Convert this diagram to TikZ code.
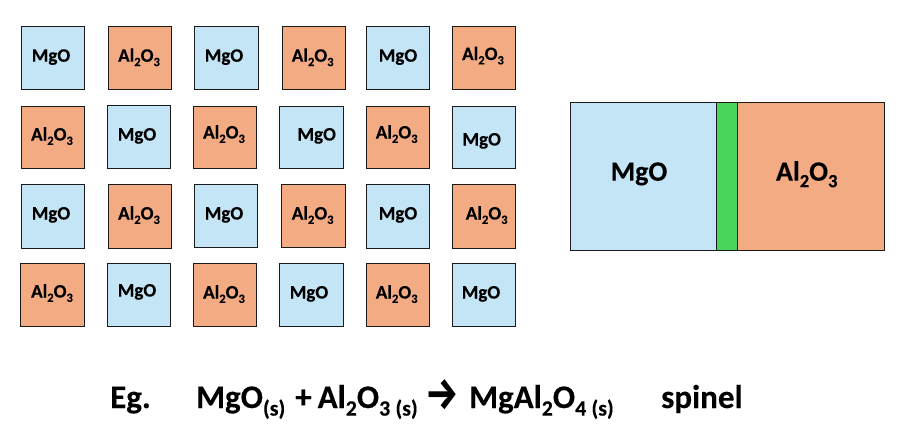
\documentclass[tikz,border=0pt]{standalone}
\usepackage{fontspec}
\setmainfont{Carlito}[BoldFeatures={FakeBold=0.25}]
\newfontfamily\arrowfont{Fira Sans Bold}
\definecolor{mgoblue}{HTML}{C3E5F6}
\definecolor{aloxide}{HTML}{F3AB84}
\definecolor{spinelgreen}{HTML}{47D65B}
\definecolor{edgeink}{HTML}{1A1A1A}
\newcommand{\subtxt}[1]{\raisebox{-0.23em}{\fontsize{0.66em}{1em}\selectfont #1}}
\newcommand{\AlO}{Al\subtxt{2}O\subtxt{3}}
\tikzset{
  x=1pt,y=-1pt,
  boxbase/.style={draw=edgeink,line width=0.9pt},
  bluerect/.style={boxbase,fill=mgoblue},
  orangerect/.style={boxbase,fill=aloxide},
  greenrect/.style={boxbase,fill=spinelgreen},
  celltext/.style={anchor=base,inner sep=0pt,font=\fontsize{19}{20}\selectfont\bfseries,text=black},
  bigtext/.style={anchor=base,inner sep=0pt,font=\fontsize{28}{30}\selectfont\bfseries,text=black},
  eqtext/.style={anchor=base west,inner sep=0pt,font=\fontsize{33}{35}\selectfont\bfseries,text=black},
}
% name, style, x1, y1, x2, y2, text, text x, text baseline
\newcommand{\cell}[9]{%
  \node[#2,minimum width=#5pt-#3pt,minimum height=#6pt-#4pt,inner sep=0pt,outer sep=0pt,anchor=north west] (#1) at (#3,#4) {};
  \node[celltext] (#1t) at (#8,#9) {#7};
}
\begin{document}
\begin{tikzpicture}
\useasboundingbox (0,0) rectangle (904,440);
% row 1
\cell{a1}{bluerect}{21.5}{26.5}{84}{89.5}{MgO}{51}{61.7}
\cell{a2}{orangerect}{108}{26.5}{171}{89.5}{\AlO}{139}{61.7}
\cell{a3}{bluerect}{194.5}{26.5}{258}{89.5}{MgO}{224}{61.7}
\cell{a4}{orangerect}{282.5}{26.5}{345}{89.5}{\AlO}{312.7}{61.7}
\cell{a5}{bluerect}{366.5}{26.5}{429}{89.5}{MgO}{398}{61.7}
\cell{a6}{orangerect}{452}{26.5}{515.5}{89.5}{\AlO}{483}{60}
% row 2
\cell{b1}{orangerect}{21.5}{106}{84}{168.5}{\AlO}{52}{140.5}
\cell{b2}{bluerect}{107}{105}{170}{168}{MgO}{137}{140.5}
\cell{b3}{orangerect}{193.5}{106}{256.5}{168.5}{\AlO}{224}{138.5}
\cell{b4}{bluerect}{279.5}{106}{343.5}{168.5}{MgO}{316.7}{140.5}
\cell{b5}{orangerect}{366.5}{106}{429}{168.5}{\AlO}{396.7}{138.5}
\cell{b6}{bluerect}{452}{106}{515.5}{168.5}{MgO}{481.7}{145.5}
% row 3
\cell{c1}{bluerect}{21.5}{184.5}{84}{248}{MgO}{51}{219.5}
\cell{c2}{orangerect}{108}{184.5}{171}{248}{\AlO}{139}{219.5}
\cell{c3}{bluerect}{194.5}{184.5}{257.5}{247}{MgO}{224}{219.5}
\cell{c4}{orangerect}{281.5}{184.5}{345}{247}{\AlO}{312.7}{219.5}
\cell{c5}{bluerect}{366.5}{184.5}{429}{248}{MgO}{398}{219.5}
\cell{c6}{orangerect}{452}{184.5}{515.5}{248}{\AlO}{486.7}{219.5}
% row 4
\cell{d1}{orangerect}{20.5}{263.5}{84}{326.3}{\AlO}{52}{297.5}
\cell{d2}{bluerect}{107}{263.5}{170}{326.3}{MgO}{137}{296.5}
\cell{d3}{orangerect}{193.5}{263.5}{256.5}{326.3}{\AlO}{224}{298.5}
\cell{d4}{bluerect}{279.5}{263.5}{343.5}{326.3}{MgO}{309}{298.5}
\cell{d5}{orangerect}{366.5}{263.5}{429}{326.3}{\AlO}{396.7}{298.5}
\cell{d6}{bluerect}{452}{263.5}{515.5}{326.3}{MgO}{481}{298.5}
% right panel
\node[bluerect,minimum width=146pt,minimum height=148pt,inner sep=0pt,outer sep=0pt,anchor=north west] (pm) at (570.3,102.7) {};
\node[orangerect,minimum width=147pt,minimum height=148pt,inner sep=0pt,outer sep=0pt,anchor=north west] (pa) at (737.3,102.7) {};
\node[greenrect,minimum width=21pt,minimum height=148pt,inner sep=0pt,outer sep=0pt,anchor=north west] (pg) at (716.3,102.7) {};
\node[bigtext] (pmt) at (639,180.7) {MgO};
\node[bigtext] (pat) at (806.7,180.7) {\AlO};
% equation
\node[eqtext] (eg) at (110,408) {Eg.};
\node[eqtext] (eq1) at (196,408) {MgO\subtxt{(s)}};
\node[eqtext] (eqp) at (295,408) {+};
\node[eqtext] (eq2) at (317.5,408) {\AlO\hspace{0.16em}\subtxt{(s)}};
\node[anchor=base west,inner sep=0pt,font=\fontsize{36}{38}\selectfont\arrowfont] (eqa) at (425.5,409) {\scalebox{1.04}[1.25]{→}};
\node[eqtext] (eq3) at (469,408) {MgAl\subtxt{2}O\subtxt{4}\hspace{0.16em}\subtxt{(s)}};
\node[eqtext] (sp) at (661,408) {spinel};
\end{tikzpicture}
\end{document}
